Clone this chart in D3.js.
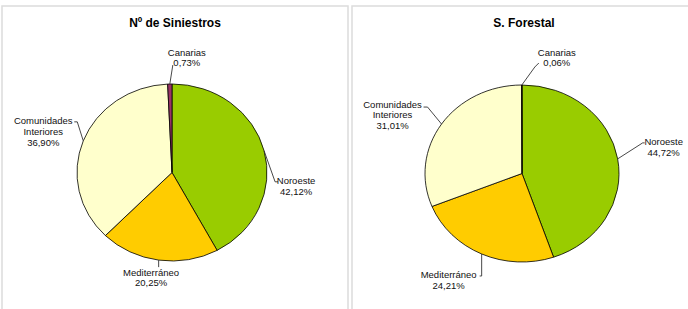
<!DOCTYPE html>
<html><head><meta charset="utf-8">
<script src="https://cdn.jsdelivr.net/npm/d3@7/dist/d3.min.js"></script>
<style>body{margin:0;background:#fff;} svg{display:block;font-family:"Liberation Sans",Arial,sans-serif;}</style>
</head><body><svg id="c" width="688" height="309"></svg>
<script>
const categories = ["Noroeste", "Mediterráneo", "Comunidades Interiores", "Canarias"];
const siniestros = [42.12, 20.25, 36.90, 0.73];
const forestal = [44.72, 24.21, 31.01, 0.06];
const titles = ["Nº de Siniestros", "S. Forestal"];
const colors = ["#99CC00", "#FFCC00", "#FFFFCC", "#993366"];

const svg = d3.select("#c");
// panel frames
svg.append("path").attr("d","M2,309 V6 H348 V309").attr("fill","none").attr("stroke","#dcdcdc").attr("stroke-width",1.5);
svg.append("path").attr("d","M352,309 V6 H688").attr("fill","none").attr("stroke","#dcdcdc").attr("stroke-width",1.5);

const fmt = v => d3.format(".2f")(v).replace(".", ",") + "%";

const panels = [
  {values: siniestros, title: titles[0], cx:172, cy:172.5, rx:95, ry:88.5, tx:175,
   labels:[
     {dx:32, dy:30, lines:[[11,31],[14,31]]},
     {dx:-7.6, dy:12, lines:[[0,7]]},
     {dx:-40, dy:-20, lines:[[-6,-19],[-9,-19]]},
     {dx:17, dy:-32, lines:[[3,-19]]}
   ]},
  {values: forestal, title: titles[1], cx:522, cy:173.5, rx:97, ry:88.5, tx:524,
   labels:[
     {dx:46, dy:-17, lines:[[25,-16],[27,-16]]},
     {dx:-33, dy:21, lines:[[0,22],[-2,22]]},
     {dx:-49, dy:-20, lines:[[-14,-17],[-18,-17]]},
     {dx:35, dy:-33, lines:[[13,-18],[17,-22]]}
   ]}
];

panels.forEach(p => {
  svg.append("text").attr("x", p.tx).attr("y", 27).attr("text-anchor","middle")
    .attr("font-size", 12).attr("font-weight","bold").text(p.title);
  const pie = d3.pie().sort(null).value(d => d)(p.values);
  const arc = d3.arc().innerRadius(0).outerRadius(p.rx);
  const g = svg.append("g").attr("transform", `translate(${p.cx},${p.cy}) scale(1,${p.ry/p.rx})`);
  g.selectAll("path").data(pie).join("path")
    .attr("d", arc).attr("fill", (d,i) => colors[i])
    .attr("stroke", "#000").attr("stroke-width", 0.8)
    .attr("vector-effect", "non-scaling-stroke");
  pie.forEach((d, i) => {
    const a = (d.startAngle + d.endAngle) / 2;
    const ex = p.cx + p.rx * Math.sin(a), ey = p.cy - p.ry * Math.cos(a);
    const L = p.labels[i];
    const pts = [[ex, ey]].concat(L.lines.map(q => [ex + q[0], ey + q[1]]));
    svg.append("path").attr("d", d3.line()(pts)).attr("fill","none")
      .attr("stroke","#333").attr("stroke-width",0.9);
    const words = categories[i] === "Comunidades Interiores" ? ["Comunidades","Interiores"] : [categories[i]];
    const lines = words.concat([fmt(p.values[i])]);
    const t = svg.append("text").attr("text-anchor","middle").attr("font-size", 9.5).attr("fill","#111");
    lines.forEach((s, k) => {
      t.append("tspan").attr("x", ex + L.dx).attr("y", ey + L.dy + 3.5 + k * 10.6).text(s);
    });
  });
});
</script></body></html>
